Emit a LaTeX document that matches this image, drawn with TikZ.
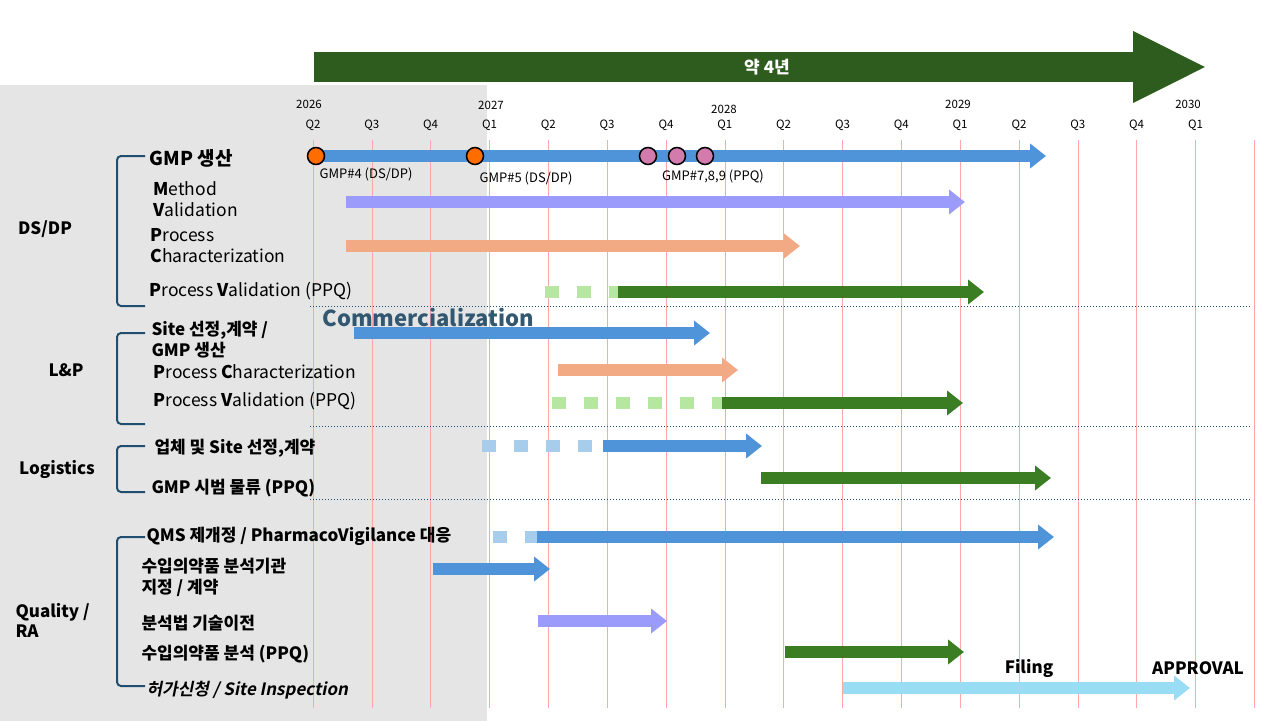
\documentclass[tikz,border=0pt]{standalone}
\usepackage{fontspec}
\setmainfont{Noto Sans CJK KR}[ItalicFont={Noto Sans CJK KR}, ItalicFeatures={FakeSlant=0.2}, BoldItalicFont={Noto Sans CJK KR Bold}, BoldItalicFeatures={FakeSlant=0.2}]
\usetikzlibrary{arrows.meta}
\definecolor{topgreen}{HTML}{2E5B1E}
\definecolor{ganttblue}{HTML}{4F93D8}
\definecolor{lavender}{HTML}{9B9BFB}
\definecolor{salmon}{HTML}{F2AA84}
\definecolor{ppqgreen}{HTML}{3A7D22}
\definecolor{palegreen}{HTML}{B5E6A2}
\definecolor{paleblue}{HTML}{A8CCEC}
\definecolor{skyblue}{HTML}{99DDF5}
\definecolor{bracketblue}{HTML}{1F4E6E}
% one gantt bar: name, start x, end x, y, colour
\newcommand{\ganttbar}[5]{%
  \coordinate (#1s) at (#2,#4);
  \coordinate (#1e) at (#3,#4);
  \draw[gbar, #5] (#1s) -- (#1e);
}
\begin{document}
\begin{tikzpicture}[x=1pt, y=-1pt,
    gbar/.style={line width=12pt, -{Triangle[width=24pt, length=16pt]}},
    dashbar/.style={line width=12pt, dash pattern=on 14pt off 18pt},
    grid/.style={red!35, line width=0.5pt},
    sep/.style={bracketblue, dotted, line width=1pt},
    brace/.style={bracketblue, line width=2pt, rounded corners=4pt},
    quarter/.style={font=\fontsize{11.5}{12}\selectfont},
    group/.style={font=\bfseries\fontsize{17}{20}\selectfont, align=left},
    task/.style={font=\fontsize{17.5}{21}\selectfont, anchor=west, align=left},
    btask/.style={task, font=\bfseries\fontsize{17}{21}\selectfont},
    tag/.style={font=\fontsize{13}{13}\selectfont},
    mile/.style={circle, draw=black, line width=1.5pt, minimum size=17pt, inner sep=0pt}
  ]
\useasboundingbox (0,0) rectangle (1284,721);
\fill[black!10] (0,85) rectangle (487,721);

% top arrow
\coordinate (spanS) at (314,67);
\coordinate (spanE) at (1207,67);
\draw[topgreen, line width=30pt, -{Triangle[width=66pt, length=74pt]}] (spanS) -- (spanE);
\node[white, font=\bfseries\fontsize{17}{17}\selectfont] (span) at (767,67) {약 4년};

% quarter grid
\foreach \q [count=\i from 0] in {Q2,Q3,Q4,Q1,Q2,Q3,Q4,Q1,Q2,Q3,Q4,Q1,Q2,Q3,Q4,Q1,} {
  \pgfmathsetmacro{\xq}{313+58.83*\i}
  \draw[grid] (\xq,140) -- (\xq,708);
  \node[quarter] (q\i) at (\xq,125) {\q};
}
\foreach \yr/\xx/\yy in {2026/309/104, 2027/491/105, 2028/724/109, 2029/958/104, 2030/1188/104}
  \node[quarter] (y\yr) at (\xx,\yy) {\yr};

% separators
\foreach \yy in {306,426,499}
  \draw[sep] (310,\yy) -- (1252,\yy);

% brackets
\draw[brace] (145,156) -- (117,156) -- (117,306) -- (145,306);
\draw[brace] (145,333) -- (117,333) -- (117,424) -- (145,424);
\draw[brace] (145,446) -- (117,446) -- (117,492) -- (145,492);
\draw[brace] (145,537) -- (117,537) -- (117,686) -- (145,686);

% groups
\node[group] (dsdp) at (45,229) {DS/DP};
\node[group] (lp) at (66,370) {L\&P};
\node[group] (logi) at (57,469) {Logistics};
\node[group, anchor=west] (qra) at (12,620) {Quality /\\RA};

% DS/DP
\node[task, font=\bfseries\fontsize{19}{20}\selectfont] (gmp) at (146,158) {GMP 생산};
\node[task] (mv) at (150,199) {\textbf{M}ethod\\\textbf{V}alidation};
\node[task] (pc) at (147,246) {\textbf{P}rocess\\\textbf{C}haracterization};
\node[task] (ppq) at (146,291) {\textbf{P}rocess \textbf{V}alidation (PPQ)};
\ganttbar{gmpbar}{313}{1046}{156}{ganttblue}
\ganttbar{mvbar}{346}{965}{202}{lavender}
\ganttbar{pcbar}{346}{800}{246}{salmon}
\draw[dashbar, palegreen] (545,292) -- (618,292);
\ganttbar{ppqbar}{618}{984}{292}{ppqgreen}
\node[mile, fill=orange!85!red] (g4) at (316,156) {};
\node[mile, fill=orange!85!red] (g5) at (475,156) {};
\foreach \xx [count=\k from 7] in {648,677,705}
  \node[mile, fill=magenta!45!violet!60] (g\k) at (\xx,156) {};
\node[tag] (g4t) at (366,174) {GMP\#4 (DS/DP)};
\node[tag] (g5t) at (526,178) {GMP\#5 (DS/DP)};
\node[tag] (g7t) at (713,176) {GMP\#7,8,9 (PPQ)};

% L&P
\node[btask] (site) at (148,340) {\textbf{S}ite 선정,계약 /\\GMP 생산};
\node[font=\bfseries\fontsize{22}{22}\selectfont, text=bracketblue!80!gray] (comm) at (428,318) {Commercialization};
\node[task] (lppc) at (150,372) {\textbf{P}rocess \textbf{C}haracterization};
\node[task] (lpppq) at (150,401) {\textbf{P}rocess \textbf{V}alidation (PPQ)};
\ganttbar{sitebar}{354}{710}{333}{ganttblue}
\ganttbar{lppcbar}{558}{738}{370}{salmon}
\draw[dashbar, palegreen] (552,403) -- (722,403);
\ganttbar{lpppqbar}{722}{963}{403}{ppqgreen}

% Logistics
\node[btask] (vend) at (151,448) {업체 및 \textbf{S}ite 선정,계약};
\node[btask] (ship) at (148,488) {GMP 시범 물류 (PPQ)};
\draw[dashbar, paleblue] (482,446) -- (603,446);
\ganttbar{vendbar}{603}{762}{446}{ganttblue}
\ganttbar{shipbar}{761}{1051}{478}{ppqgreen}

% Quality / RA
\draw[dashbar, paleblue] (493,537) -- (537,537);
\ganttbar{qmsbar}{537}{1054}{537}{ganttblue}
\ganttbar{labbar}{433}{550}{569}{ganttblue}
\ganttbar{tecbar}{538}{667}{621}{lavender}
\ganttbar{anabar}{785}{964}{652}{ppqgreen}
\ganttbar{filebar}{843}{1190}{688}{skyblue}
\node[btask] (qms) at (143,536) {QMS 제개정 / PharmacoVigilance 대응};
\node[btask] (lab) at (138,577) {수입의약품 분석기관\\지정 / 계약};
\node[btask] (tech) at (138,623) {분석법 기술이전};
\node[btask] (ana) at (138,654) {수입의약품 분석 (PPQ)};
\node[btask, font=\bfseries\itshape\fontsize{17}{21}\selectfont] (insp) at (143,690) {허가신청 / Site Inspection};
\node[font=\bfseries\fontsize{17}{17}\selectfont] (filing) at (1029,668) {Filing};
\node[font=\bfseries\fontsize{17}{17}\selectfont] (appr) at (1198,668) {APPROVAL};
\end{tikzpicture}
\end{document}
